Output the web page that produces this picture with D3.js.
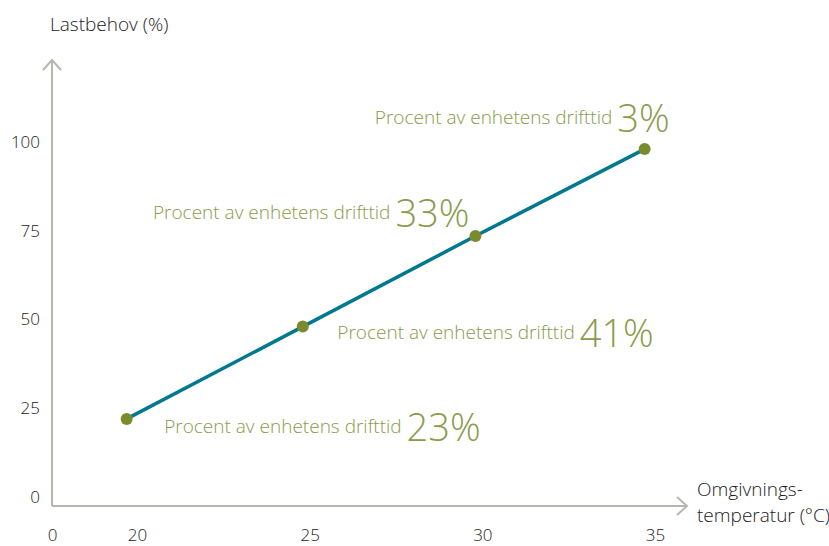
<!DOCTYPE html>
<html>
<head>
<meta charset="utf-8">
<script src="https://cdn.jsdelivr.net/npm/d3@7/dist/d3.min.js"></script>
<style>
  body { margin: 0; background: #fff; }
  svg { display: block; font-family: "Open Sans", sans-serif; }
  .axis text { font-family: "Open Sans", sans-serif; font-size: 17px; fill: #222; font-weight: 300; }
</style>
</head>
<body>
<div id="chart"></div>
<script>
// data
var temps = [19.7, 24.8, 29.8, 34.7];     // Omgivningstemperatur (°C)
var load = [22, 48, 73.5, 98];            // Lastbehov (%)
var shares = ["23%", "41%", "33%", "3%"]; // procent av enhetens drifttid
var xTicks = [0, 20, 25, 30, 35];
var yTicks = [0, 25, 50, 75, 100];

var width = 829, height = 546;
var axisColor = "#b9b6ad", lineColor = "#00798f", dotColor = "#7a8b2e", labelColor = "#8a9b4b";

var svg = d3.select("#chart").append("svg")
  .attr("width", width)
  .attr("height", height);

// broken x axis: 0 sits at the origin, the break is just below 20
var x = d3.scaleLinear()
  .domain([0, 19, 35])
  .range([52, 102.5, 655]);

var y = d3.scaleLinear()
  .domain([0, 100])
  .range([497, 142]);

var originX = 52, originY = 506;

// axis lines with open arrow heads
var axes = svg.append("g")
  .attr("fill", "none")
  .attr("stroke", axisColor)
  .attr("stroke-width", 2);
axes.append("path").attr("d", "M" + originX + "," + originY + "V60");
axes.append("path").attr("d", "M" + (originX - 9) + ",70L" + originX + ",60L" + (originX + 9) + ",70");
axes.append("path").attr("d", "M" + originX + "," + originY + "H686");
axes.append("path").attr("d", "M677," + (originY - 9) + "L687," + originY + "L677," + (originY + 9));

// tick labels
svg.append("g")
  .attr("class", "axis")
  .attr("transform", "translate(" + originX + ",0)")
  .call(d3.axisLeft(y).tickValues(yTicks).tickSize(0).tickPadding(12))
  .call(function(g) { g.select(".domain").remove(); });

svg.append("g")
  .attr("class", "axis")
  .attr("transform", "translate(0," + originY + ")")
  .call(d3.axisBottom(x).tickValues(xTicks).tickSize(0).tickPadding(23))
  .call(function(g) { g.select(".domain").remove(); });

// axis titles
svg.append("text")
  .attr("x", 50).attr("y", 31)
  .attr("font-size", 19).attr("font-weight", 300).attr("fill", "#222")
  .text("Lastbehov (%)");

var xt = svg.append("text")
  .attr("x", 697).attr("y", 496)
  .attr("font-size", 19).attr("font-weight", 300).attr("fill", "#222");
xt.append("tspan").attr("x", 697).text("Omgivnings-");
xt.append("tspan").attr("x", 697).attr("dy", 26).text("temperatur (°C)");

// line + points
var pts = temps.map(function(t, i) { return [t, load[i]]; });

svg.append("path")
  .datum(pts)
  .attr("fill", "none")
  .attr("stroke", lineColor)
  .attr("stroke-width", 3.5)
  .attr("d", d3.line().x(function(d) { return x(d[0]); }).y(function(d) { return y(d[1]); }));

svg.selectAll("circle")
  .data(pts)
  .enter()
  .append("circle")
  .attr("cx", function(d) { return x(d[0]); })
  .attr("cy", function(d) { return y(d[1]); })
  .attr("r", 6)
  .attr("fill", dotColor);

// annotation offsets from each point (end of the big number, baseline)
var labelOffset = [[354, 22], [351, 20], [-6, -9], [25, -17]];

var labels = svg.selectAll(".label")
  .data(pts)
  .enter()
  .append("text")
  .attr("class", "label")
  .attr("text-anchor", "end")
  .attr("x", function(d, i) { return x(d[0]) + labelOffset[i][0]; })
  .attr("y", function(d, i) { return y(d[1]) + labelOffset[i][1]; })
  .attr("fill", labelColor)
  .attr("font-weight", 300);

labels.append("tspan")
  .attr("font-size", 19)
  .attr("dy", -8)
  .text("Procent av enhetens drifttid ");
labels.append("tspan")
  .attr("font-size", 38)
  .attr("dy", 8)
  .text(function(d, i) { return shares[i]; });
</script>
</body>
</html>
